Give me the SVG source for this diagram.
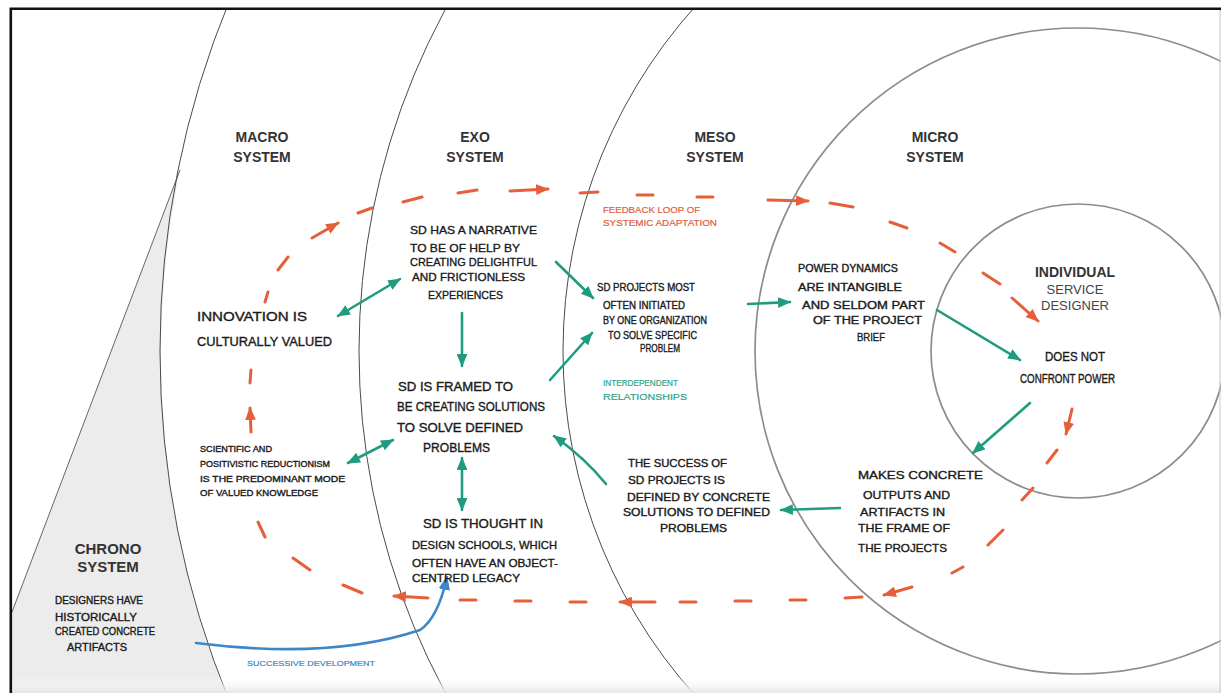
<svg xmlns="http://www.w3.org/2000/svg" width="1221" height="693" viewBox="0 0 1221 693">
<defs>
<style>
.ring{fill:none;stroke:#4a4a4a;stroke-width:1}
.ring2{fill:none;stroke:#8c8c8c;stroke-width:1.7}
.lbl{font-family:"Liberation Sans",Arial,sans-serif;font-weight:bold;font-size:14px;fill:#333;text-anchor:middle}
.sub{font-family:"Liberation Sans",Arial,sans-serif;font-size:13px;fill:#444;text-anchor:middle}
.hw{font-family:"Liberation Sans",Arial,sans-serif;fill:#1a1a1a;stroke:#1a1a1a;stroke-width:0.35}
.hwr{font-family:"Liberation Sans",Arial,sans-serif;fill:#e0603f;stroke:#e0603f;stroke-width:0.2}
.hwg{font-family:"Liberation Sans",Arial,sans-serif;fill:#2fa58a;stroke:#2fa58a;stroke-width:0.2}
.hwb{font-family:"Liberation Sans",Arial,sans-serif;fill:#3d86c8;stroke:#3d86c8;stroke-width:0.2}
.g{fill:none;stroke:#1f9c80;stroke-width:2.6;stroke-linecap:round}
.r{fill:none;stroke:#e5603a;stroke-width:3;stroke-linecap:round}
.b{fill:none;stroke:#3d86c8;stroke-width:2.6;stroke-linecap:round}
</style>
<clipPath id="frame"><rect x="11" y="9" width="1210" height="684"/></clipPath>
<marker id="ga" viewBox="0 0 12 10" refX="11" refY="5" markerWidth="13" markerHeight="11" markerUnits="userSpaceOnUse" orient="auto-start-reverse"><path d="M0,0 L12,5 L0,10 Z" fill="#1f9c80"/></marker>
<marker id="ra" viewBox="0 0 12 10" refX="11" refY="5" markerWidth="13" markerHeight="11" markerUnits="userSpaceOnUse" orient="auto"><path d="M0,0 L12,5 L0,10 Z" fill="#e5603a"/></marker>
<marker id="ba" viewBox="0 0 12 10" refX="11" refY="5" markerWidth="14" markerHeight="12" markerUnits="userSpaceOnUse" orient="auto"><path d="M0,0 L12,5 L0,10 Z" fill="#3d86c8"/></marker>
<linearGradient id="bot" x1="0" y1="0" x2="0" y2="1"><stop offset="0" stop-color="#ffffff" stop-opacity="0"/><stop offset="1" stop-color="#e6e6e6"/></linearGradient>
</defs>
<rect x="0" y="0" width="1221" height="693" fill="#ffffff"/>
<g id="background" clip-path="url(#frame)">
<path d="M12,612 L180,170 A918,918 0 0 0 225,693 L12,693 Z" fill="#ececec"/>
<path d="M12,612 L180,170" fill="none" stroke="#666" stroke-width="1"/>
<circle class="ring" cx="1078" cy="351" r="918"/>
<circle class="ring" cx="1078" cy="351" r="719"/>
<circle class="ring" cx="1078" cy="351" r="515"/>
<circle class="ring2" cx="1078" cy="351" r="323"/>
<circle class="ring2" cx="1078" cy="351" r="147"/>
<rect x="11" y="676" width="1210" height="17" fill="url(#bot)"/>
</g>
<g id="frame-border">
<path d="M10.8,693 V8.8 H1221" fill="none" stroke="#111" stroke-width="2.6"/>
<path d="M1220,10 V693" fill="none" stroke="#c8c8c8" stroke-width="1"/>
</g>
<g id="system-labels">
<text class="lbl" x="262" y="142">MACRO</text><text class="lbl" x="262" y="162">SYSTEM</text>
<text class="lbl" x="475" y="142">EXO</text><text class="lbl" x="475" y="162">SYSTEM</text>
<text class="lbl" x="715" y="142">MESO</text><text class="lbl" x="715" y="162">SYSTEM</text>
<text class="lbl" x="935" y="142">MICRO</text><text class="lbl" x="935" y="162">SYSTEM</text>
</g>
<g id="individual-label">
<text class="lbl" x="1075" y="277">INDIVIDUAL</text>
<text class="sub" x="1075" y="294">SERVICE</text>
<text class="sub" x="1075" y="310">DESIGNER</text>
</g>
<g id="chrono-label">
<text class="lbl" x="108" y="554" style="font-size:15px">CHRONO</text>
<text class="lbl" x="108" y="572" style="font-size:15px">SYSTEM</text>
</g>
<g id="connectors">
<g id="feedback-loop">
<path class="r" d="M258,522 L265,537 M293,558 L310,570 M343,585 L362,593 M250,383 L251,370 M265,302 L268,292 M278,270 L288,257 M358,213 L372,208 M403,202 L422,197 M458,193 L477,190 M580,193 L598,192 M637,195 L653,195 M697,197 L713,197 M830,203 L853,207 M890,222 L907,228 M940,243 L955,252 M983,273 L1000,284 M1057,450 L1047,463 M1033,488 L1022,500 M1003,530 L988,545 M963,567 L952,573 M862,597 L845,598 M806,600 L790,600 M751,601 L735,601 M696,602 L680,602 M586,602 L570,602 M531,601 L515,601 M476,600 L460,600"/>
<path class="r" d="M251,432 L250,408" marker-end="url(#ra)"/>
<path class="r" d="M312,238 L338,223" marker-end="url(#ra)"/>
<path class="r" d="M510,191 L548,189" marker-end="url(#ra)"/>
<path class="r" d="M768,200 L808,201" marker-end="url(#ra)"/>
<path class="r" d="M1012,298 L1038,321" marker-end="url(#ra)"/>
<path class="r" d="M1072,409 L1066,434" marker-end="url(#ra)"/>
<path class="r" d="M912,587 L884,595" marker-end="url(#ra)"/>
<path class="r" d="M655,602 L620,602" marker-end="url(#ra)"/>
<path class="r" d="M428,598 L394,596" marker-end="url(#ra)"/>
</g>
<path class="g" d="M338,316 L400,279" marker-start="url(#ga)" marker-end="url(#ga)"/>
<path class="g" d="M462,313 L462,366" marker-end="url(#ga)"/>
<path class="g" d="M556,262 L593,298" marker-end="url(#ga)"/>
<path class="g" d="M550,380 L592,333" marker-end="url(#ga)"/>
<path class="g" d="M462,458 L462,510" marker-start="url(#ga)" marker-end="url(#ga)"/>
<path class="g" d="M348,463 L393,440" marker-start="url(#ga)" marker-end="url(#ga)"/>
<path class="g" d="M606,484 Q585,458 554,436" marker-end="url(#ga)"/>
<path class="g" d="M748,304 L790,302" marker-end="url(#ga)"/>
<path class="g" d="M937,310 L1020,360" marker-end="url(#ga)"/>
<path class="g" d="M1030,403 L973,453" marker-end="url(#ga)"/>
<path class="g" d="M840,508 L781,510" marker-end="url(#ga)"/>
<path class="b" d="M196,643 Q330,660 420,630 Q438,618 447,577" marker-end="url(#ba)"/>
</g>
<g id="node-innovation" class="hw" font-size="12.5">
<text x="197" y="321" textLength="110" lengthAdjust="spacingAndGlyphs">INNOVATION IS</text>
<text x="197" y="346" textLength="135" lengthAdjust="spacingAndGlyphs">CULTURALLY VALUED</text>
</g>
<g id="node-narrative" class="hw" font-size="11">
<text x="410" y="234" textLength="127" lengthAdjust="spacingAndGlyphs">SD HAS A NARRATIVE</text>
<text x="410" y="252" textLength="110" lengthAdjust="spacingAndGlyphs">TO BE OF HELP BY</text>
<text x="410" y="266" textLength="127" lengthAdjust="spacingAndGlyphs">CREATING DELIGHTFUL</text>
<text x="412" y="281" textLength="113" lengthAdjust="spacingAndGlyphs">AND FRICTIONLESS</text>
<text x="428" y="299" textLength="75" lengthAdjust="spacingAndGlyphs">EXPERIENCES</text>
</g>
<g id="node-framed" class="hw" font-size="12">
<text x="398" y="391" textLength="115" lengthAdjust="spacingAndGlyphs">SD IS FRAMED TO</text>
<text x="397" y="411" textLength="148" lengthAdjust="spacingAndGlyphs">BE CREATING SOLUTIONS</text>
<text x="397" y="432" textLength="126" lengthAdjust="spacingAndGlyphs">TO SOLVE DEFINED</text>
<text x="423" y="452" textLength="67" lengthAdjust="spacingAndGlyphs">PROBLEMS</text>
</g>
<g id="node-thought" class="hw" font-size="10.5">
<text x="423" y="528" textLength="120" lengthAdjust="spacingAndGlyphs" font-size="12">SD IS THOUGHT IN</text>
<text x="412" y="549" textLength="145" lengthAdjust="spacingAndGlyphs">DESIGN SCHOOLS, WHICH</text>
<text x="412" y="567" textLength="146" lengthAdjust="spacingAndGlyphs">OFTEN HAVE AN OBJECT-</text>
<text x="412" y="582" textLength="108" lengthAdjust="spacingAndGlyphs">CENTRED LEGACY</text>
</g>
<g id="node-scientific" class="hw" font-size="8.5">
<text x="200" y="452" textLength="72" lengthAdjust="spacingAndGlyphs">SCIENTIFIC AND</text>
<text x="200" y="467" textLength="130" lengthAdjust="spacingAndGlyphs">POSITIVISTIC REDUCTIONISM</text>
<text x="200" y="482" textLength="145" lengthAdjust="spacingAndGlyphs">IS THE PREDOMINANT MODE</text>
<text x="200" y="496" textLength="118" lengthAdjust="spacingAndGlyphs">OF VALUED KNOWLEDGE</text>
</g>
<g id="node-projects" class="hw" font-size="10">
<text x="597" y="291" textLength="98" lengthAdjust="spacingAndGlyphs">SD PROJECTS MOST</text>
<text x="603" y="309" textLength="82" lengthAdjust="spacingAndGlyphs">OFTEN INITIATED</text>
<text x="603" y="324" textLength="104" lengthAdjust="spacingAndGlyphs">BY ONE ORGANIZATION</text>
<text x="608" y="339" textLength="89" lengthAdjust="spacingAndGlyphs">TO SOLVE SPECIFIC</text>
<text x="640" y="352" textLength="40" lengthAdjust="spacingAndGlyphs">PROBLEM</text>
</g>
<g id="label-feedback" class="hwr" font-size="8.5">
<text x="603" y="213" textLength="97" lengthAdjust="spacingAndGlyphs">FEEDBACK LOOP OF</text>
<text x="603" y="226" textLength="114" lengthAdjust="spacingAndGlyphs">SYSTEMIC ADAPTATION</text>
</g>
<g id="label-interdependent" class="hwg" font-size="8.5">
<text x="603" y="386" textLength="75" lengthAdjust="spacingAndGlyphs">INTERDEPENDENT</text>
<text x="603" y="400" textLength="84" lengthAdjust="spacingAndGlyphs">RELATIONSHIPS</text>
</g>
<g id="node-success" class="hw" font-size="10">
<text x="628" y="467" textLength="99" lengthAdjust="spacingAndGlyphs">THE SUCCESS OF</text>
<text x="628" y="484" textLength="97" lengthAdjust="spacingAndGlyphs">SD PROJECTS IS</text>
<text x="627" y="501" textLength="143" lengthAdjust="spacingAndGlyphs">DEFINED BY CONCRETE</text>
<text x="623" y="516" textLength="147" lengthAdjust="spacingAndGlyphs">SOLUTIONS TO DEFINED</text>
<text x="660" y="532" textLength="67" lengthAdjust="spacingAndGlyphs">PROBLEMS</text>
</g>
<g id="node-power" class="hw" font-size="10">
<text x="798" y="272" textLength="100" lengthAdjust="spacingAndGlyphs">POWER DYNAMICS</text>
<text x="798" y="291" textLength="104" lengthAdjust="spacingAndGlyphs">ARE INTANGIBLE</text>
<text x="802" y="309" textLength="123" lengthAdjust="spacingAndGlyphs">AND SELDOM PART</text>
<text x="813" y="324" textLength="109" lengthAdjust="spacingAndGlyphs">OF THE PROJECT</text>
<text x="857" y="341" textLength="28" lengthAdjust="spacingAndGlyphs">BRIEF</text>
</g>
<g id="node-confront" class="hw" font-size="12">
<text x="1045" y="361" textLength="60" lengthAdjust="spacingAndGlyphs">DOES NOT</text>
<text x="1020" y="383" textLength="95" lengthAdjust="spacingAndGlyphs">CONFRONT POWER</text>
</g>
<g id="node-makes" class="hw" font-size="10.5">
<text x="858" y="479" textLength="125" lengthAdjust="spacingAndGlyphs">MAKES CONCRETE</text>
<text x="863" y="499" textLength="87" lengthAdjust="spacingAndGlyphs">OUTPUTS AND</text>
<text x="860" y="516" textLength="85" lengthAdjust="spacingAndGlyphs">ARTIFACTS IN</text>
<text x="858" y="532" textLength="92" lengthAdjust="spacingAndGlyphs">THE FRAME OF</text>
<text x="858" y="552" textLength="89" lengthAdjust="spacingAndGlyphs">THE PROJECTS</text>
</g>
<g id="node-designers" class="hw" font-size="10">
<text x="55" y="604" textLength="88" lengthAdjust="spacingAndGlyphs">DESIGNERS HAVE</text>
<text x="55" y="621" textLength="82" lengthAdjust="spacingAndGlyphs">HISTORICALLY</text>
<text x="55" y="635" textLength="100" lengthAdjust="spacingAndGlyphs">CREATED CONCRETE</text>
<text x="67" y="651" textLength="60" lengthAdjust="spacingAndGlyphs">ARTIFACTS</text>
</g>
<g id="label-successive" class="hwb" font-size="8">
<text x="247" y="666" textLength="128" lengthAdjust="spacingAndGlyphs">SUCCESSIVE DEVELOPMENT</text>
</g>
</svg>
